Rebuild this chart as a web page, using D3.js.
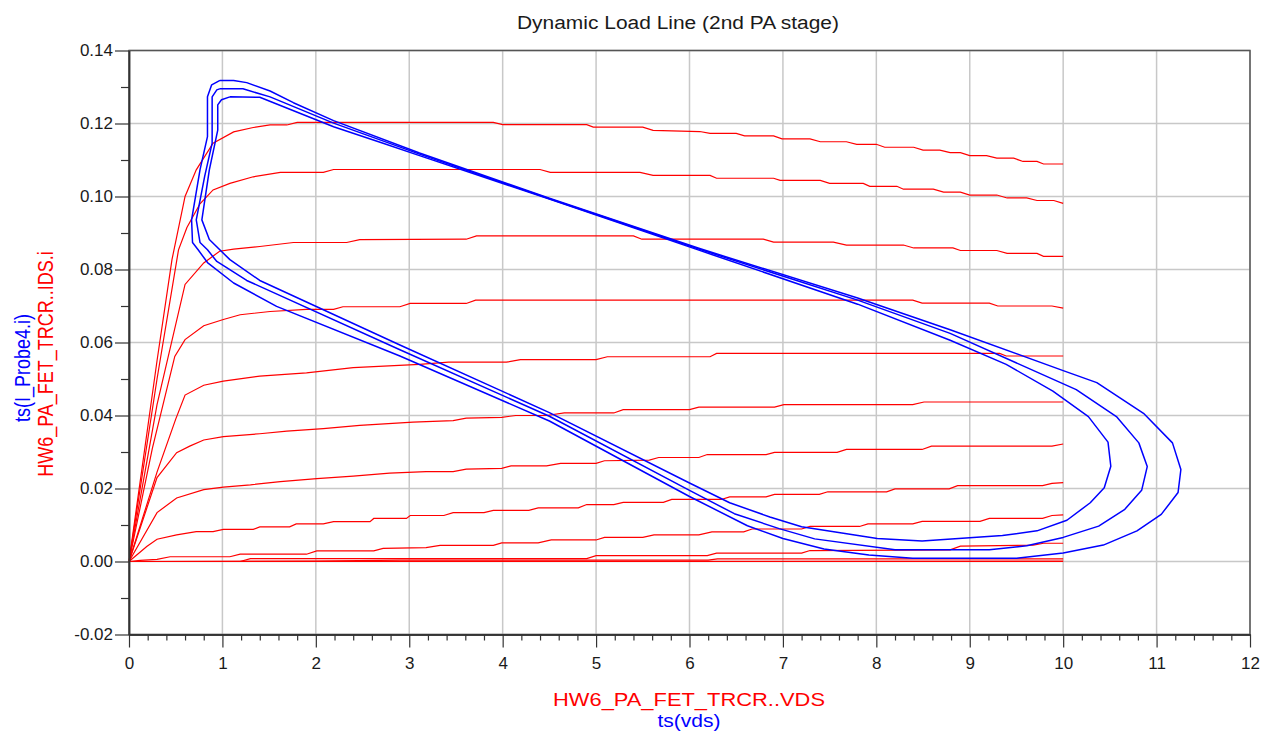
<!DOCTYPE html>
<html>
<head>
<meta charset="utf-8">
<script src="https://cdn.jsdelivr.net/npm/d3@7"></script>
<style>
  body { margin: 0; background: #fff; }
  svg { display: block; font-family: "Liberation Sans", Arial, sans-serif; }
</style>
</head>
<body>
<svg width="1262" height="733"></svg>
<script>
// tick labels
const xTickValues = [0, 1, 2, 3, 4, 5, 6, 7, 8, 9, 10, 11, 12];
const yTickValues = [-0.02, 0.0, 0.02, 0.04, 0.06, 0.08, 0.1, 0.12, 0.14];

// red family: HW6_PA_FET_TRCR..IDS.i vs HW6_PA_FET_TRCR..VDS, one array per gate step
const ids1 = [[0,0],[0.3,0.055],[0.46,0.0827],[0.6,0.1],[0.72,0.1073],[0.9,0.1146],[1.12,0.1177],[1.33,0.1189],[1.51,0.1196],[1.69,0.1196],[1.8,0.1203],[3.9,0.1203],[4.0,0.1197],[4.9,0.1197],[4.97,0.119],[5.5,0.119],[5.61,0.1181],[6.11,0.1178],[6.22,0.1173],[6.5,0.1173],[6.59,0.1166],[6.9,0.1166],[6.99,0.1158],[7.29,0.1158],[7.4,0.115],[7.68,0.115],[7.79,0.1143],[8.0,0.1143],[8.09,0.1135],[8.4,0.1135],[8.5,0.1127],[8.68,0.1127],[8.79,0.112],[8.9,0.112],[9.0,0.1112],[9.18,0.1112],[9.29,0.1105],[9.47,0.1105],[9.57,0.1096],[9.72,0.1096],[9.79,0.1089],[10,0.1089]];
const ids2 = [[0,0],[0.3,0.05],[0.53,0.0854],[0.62,0.0915],[0.76,0.098],[0.9,0.1018],[1.08,0.1036],[1.33,0.1054],[1.62,0.1066],[2.08,0.1066],[2.19,0.1074],[4.4,0.1074],[4.51,0.1066],[5.47,0.1066],[5.61,0.1058],[6.22,0.1058],[6.29,0.105],[6.9,0.105],[6.97,0.1044],[7.4,0.1044],[7.5,0.1036],[7.86,0.1036],[7.93,0.1028],[8.22,0.1028],[8.29,0.102],[8.61,0.102],[8.72,0.1012],[8.9,0.1012],[9.0,0.1004],[9.29,0.1004],[9.4,0.0996],[9.61,0.0996],[9.72,0.0989],[9.9,0.0989],[10,0.0981]];
const ids3 = [[0,0],[0.3,0.043],[0.6,0.0759],[0.8,0.0818],[0.97,0.085],[1.12,0.0856],[1.4,0.0863],[1.76,0.0874],[2.33,0.0874],[2.47,0.0882],[3.61,0.0883],[3.72,0.0892],[5.4,0.0892],[5.49,0.0883],[6.79,0.0883],[6.9,0.0875],[7.54,0.0875],[7.68,0.0867],[8.29,0.0867],[8.4,0.0859],[8.82,0.0859],[8.9,0.0852],[9.29,0.0852],[9.4,0.0844],[9.72,0.0844],[9.79,0.0836],[10,0.0836]];
const ids4 = [[0,0],[0.25,0.031],[0.49,0.0562],[0.6,0.0608],[0.8,0.0646],[1.01,0.0663],[1.19,0.0676],[1.51,0.0685],[1.9,0.0691],[2.19,0.0691],[2.29,0.0698],[2.9,0.0698],[3.01,0.0707],[3.61,0.0707],[3.71,0.0716],[8.39,0.0716],[8.49,0.0708],[9.21,0.0708],[9.3,0.07],[9.88,0.07],[10,0.0694]];
const ids5 = [[0,0],[0.3,0.0245],[0.5,0.039],[0.6,0.0456],[0.8,0.0483],[1.01,0.0494],[1.4,0.0508],[1.9,0.0517],[2.4,0.0531],[3.11,0.054],[3.42,0.0546],[4.04,0.0546],[4.19,0.0553],[5.0,0.0553],[5.12,0.0561],[6.22,0.0561],[6.29,0.057],[9.32,0.057],[9.39,0.0563],[10,0.0563]];
const ids6 = [[0,0],[0.3,0.023],[0.51,0.0298],[0.65,0.0316],[0.8,0.0333],[1.01,0.0342],[1.4,0.035],[1.69,0.0357],[2.08,0.0364],[2.47,0.0373],[3.04,0.0382],[3.47,0.0386],[3.61,0.0393],[3.99,0.0395],[4.14,0.04],[4.47,0.04],[4.66,0.0407],[5.19,0.0407],[5.29,0.0416],[6.0,0.0416],[6.1,0.0423],[6.91,0.0423],[7.01,0.043],[8.39,0.043],[8.51,0.0437],[10,0.0437]];
const ids7 = [[0,0],[0.3,0.0134],[0.51,0.0174],[0.8,0.0197],[1.01,0.0204],[1.3,0.021],[1.62,0.0219],[2.01,0.0227],[2.4,0.0234],[2.79,0.0242],[3.18,0.0246],[3.47,0.0246],[3.61,0.0253],[3.99,0.0255],[4.09,0.0262],[4.47,0.0262],[4.62,0.0269],[5.0,0.0269],[5.09,0.0276],[5.57,0.0278],[5.67,0.0285],[6.1,0.0285],[6.19,0.0293],[6.82,0.0293],[6.91,0.0299],[7.58,0.0299],[7.68,0.0307],[8.49,0.0307],[8.59,0.0316],[9.88,0.0316],[10,0.0322]];
const ids8 = [[0,0],[0.19,0.0041],[0.3,0.0061],[0.51,0.0073],[0.72,0.0082],[0.9,0.0082],[1.01,0.0088],[1.33,0.0088],[1.4,0.0095],[1.72,0.0095],[1.79,0.0103],[2.08,0.0103],[2.19,0.0109],[2.58,0.0109],[2.62,0.0118],[2.97,0.0118],[3.01,0.0126],[3.37,0.0126],[3.47,0.0134],[3.8,0.0134],[3.9,0.014],[4.28,0.014],[4.38,0.0147],[4.81,0.0147],[4.9,0.0156],[5.19,0.0156],[5.29,0.0162],[5.72,0.0162],[5.81,0.017],[6.34,0.017],[6.43,0.0177],[6.82,0.0177],[6.91,0.0184],[7.39,0.0184],[7.48,0.0191],[8.11,0.0191],[8.2,0.0199],[8.78,0.0199],[8.87,0.0208],[9.78,0.0208],[9.88,0.0214],[10,0.0216]];
const ids9 = [[0,0],[0.12,0.0003],[0.3,0.0006],[0.44,0.0013],[1.08,0.0013],[1.19,0.002],[1.9,0.002],[2.01,0.0029],[2.62,0.0029],[2.72,0.0036],[3.18,0.0038],[3.33,0.0044],[3.9,0.0044],[3.99,0.0051],[4.38,0.0051],[4.52,0.0059],[5.0,0.0059],[5.09,0.0066],[5.5,0.0066],[5.62,0.0073],[6.1,0.0073],[6.24,0.0081],[6.58,0.0081],[6.67,0.0089],[7.2,0.0089],[7.29,0.0096],[7.82,0.0096],[7.91,0.0103],[8.39,0.0103],[8.49,0.011],[9.11,0.011],[9.21,0.0118],[9.78,0.0118],[9.88,0.0126],[10,0.0128]];
const ids10 = [[0,0],[1.19,0],[1.3,0.0008],[4.9,0.0008],[5.0,0.0016],[6.19,0.0016],[6.29,0.0023],[7.2,0.0023],[7.29,0.003],[8.79,0.0032],[8.9,0.0042],[9.68,0.0045],[9.79,0.005],[10,0.005]];
const ids11 = [[0,0],[2.0,0.0001],[2.9,0.0004],[6.2,0.0004],[6.3,0.0007],[10,0.0007]];
const ids12 = [[0,0],[10,0.0001]];
const ids13 = [[0,0],[10,0]];

// blue load lines: ts(I_Probe4.i) vs ts(vds), one closed loop per drive level
const loopInner = [[1.08,0.1273],[1.4,0.1272],[2.19,0.1191],[2.72,0.1146],[3.11,0.1112],[4.5,0.0993],[6.1,0.0853],[7.8,0.0705],[8.79,0.0606],[9.39,0.054],[9.89,0.0467],[10.27,0.0397],[10.48,0.0327],[10.51,0.0261],[10.44,0.0202],[10.29,0.0161],[10.04,0.0113],[9.72,0.0084],[9.35,0.0071],[8.49,0.0056],[8.01,0.0063],[7.2,0.0095],[6.86,0.0122],[6.43,0.0161],[6.0,0.0215],[4.5,0.0408],[2.9,0.0593],[1.4,0.077],[1.08,0.0827],[0.86,0.0882],[0.78,0.0936],[0.86,0.1073],[0.95,0.1182],[0.95,0.1251],[0.99,0.1265],[1.08,0.1273]];
const loopMiddle = [[0.97,0.1295],[1.22,0.1295],[1.51,0.1273],[2.19,0.1201],[3.11,0.1116],[4.5,0.0994],[6.1,0.0856],[7.8,0.0716],[8.79,0.0625],[10.14,0.0471],[10.57,0.0397],[10.81,0.0325],[10.9,0.026],[10.84,0.0195],[10.66,0.0143],[10.38,0.0097],[10.0,0.0066],[9.61,0.0043],[9.21,0.0032],[8.2,0.0032],[7.34,0.0062],[6.96,0.009],[6.48,0.0131],[6.0,0.0195],[4.5,0.0398],[2.9,0.058],[1.26,0.077],[0.94,0.0822],[0.84,0.0854],[0.76,0.0874],[0.72,0.0936],[0.81,0.1055],[0.89,0.1146],[0.89,0.1273],[0.94,0.1292],[0.97,0.1295]];
const loopOuter = [[0.974,0.1318],[1.12,0.1318],[1.26,0.1312],[1.51,0.1289],[1.76,0.1257],[2.19,0.1208],[3.11,0.1119],[4.5,0.0995],[6.1,0.0858],[7.8,0.0722],[8.79,0.0635],[10.0,0.0523],[10.36,0.049],[10.86,0.0406],[11.17,0.0325],[11.26,0.0252],[11.23,0.0189],[11.05,0.0129],[10.79,0.0084],[10.43,0.0045],[10.0,0.0023],[9.5,0.0009],[8.39,0.0009],[7.92,0.0018],[7.44,0.0034],[7.0,0.0063],[6.62,0.0098],[6.0,0.0178],[4.5,0.0385],[2.9,0.0563],[1.58,0.0699],[1.12,0.0763],[0.84,0.0819],[0.74,0.0854],[0.68,0.0874],[0.67,0.0936],[0.76,0.1073],[0.84,0.1164],[0.84,0.1273],[0.885,0.1306],[0.974,0.1318]];

const redCurves = [ids1, ids2, ids3, ids4, ids5, ids6, ids7, ids8, ids9, ids10, ids11, ids12, ids13];
const blueLoops = [loopInner, loopMiddle, loopOuter];

const svg = d3.select("svg");
const width = +svg.attr("width");
const height = +svg.attr("height");
const margin = { top: 50.5, right: 12, bottom: 98.5, left: 129 };

const x = d3.scaleLinear().domain([0, 12]).range([margin.left, width - margin.right]);
const y = d3.scaleLinear().domain([-0.02, 0.14]).range([height - margin.bottom, margin.top]);

const xMinor = d3.range(0, 12.01, 0.2).filter((d) => Math.abs(d - Math.round(d)) > 1e-6);
const yMinor = d3.range(-0.01, 0.14, 0.02);

// grid
const grid = svg.append("g").attr("stroke", "#c8c8c8").attr("stroke-width", 1.5);
grid.selectAll("line.gx").data(xTickValues).enter().append("line")
  .attr("x1", (d) => x(d)).attr("x2", (d) => x(d))
  .attr("y1", y(-0.02)).attr("y2", y(0.14));
grid.selectAll("line.gy").data(yTickValues).enter().append("line")
  .attr("x1", x(0)).attr("x2", x(12))
  .attr("y1", (d) => y(d)).attr("y2", (d) => y(d));

const line = d3.line().x((d) => x(d[0])).y((d) => y(d[1]));

svg.append("g").selectAll("path").data(redCurves).enter().append("path")
  .attr("d", line).attr("fill", "none").attr("stroke", "#ff0000").attr("stroke-width", 1.2);

svg.append("g").selectAll("path").data(blueLoops).enter().append("path")
  .attr("d", line).attr("fill", "none").attr("stroke", "#0000ff").attr("stroke-width", 1.5)
  .attr("stroke-linejoin", "round");

// frame
svg.append("rect")
  .attr("x", x(0)).attr("y", y(0.14))
  .attr("width", x(12) - x(0)).attr("height", y(-0.02) - y(0.14))
  .attr("fill", "none").attr("stroke", "#555").attr("stroke-width", 1.5);

// axes
const xAxisG = svg.append("g").attr("transform", `translate(0,${y(-0.02)})`)
  .call(d3.axisBottom(x).tickValues(xTickValues).tickSize(13).tickSizeOuter(0).tickPadding(9).tickFormat(d3.format("d")));
const xMinorG = svg.append("g").attr("transform", `translate(0,${y(-0.02)})`)
  .call(d3.axisBottom(x).tickValues(xMinor).tickSize(6).tickSizeOuter(0).tickFormat(""));
const yAxisG = svg.append("g").attr("transform", `translate(${x(0)},0)`)
  .call(d3.axisLeft(y).tickValues(yTickValues).tickSize(14).tickSizeOuter(0).tickPadding(2).tickFormat((d) => d.toFixed(2)));
const yMinorG = svg.append("g").attr("transform", `translate(${x(0)},0)`)
  .call(d3.axisLeft(y).tickValues(yMinor).tickSize(8).tickSizeOuter(0).tickFormat(""));

[xAxisG, xMinorG, yAxisG, yMinorG].forEach((g) => {
  g.select(".domain").attr("stroke", "#333").attr("stroke-width", 1.5);
  g.selectAll(".tick line").attr("stroke", "#333").attr("stroke-width", 1.2);
  g.selectAll(".tick text").attr("fill", "#1a1a1a").style("font-size", "17px")
    .style("font-family", '"Liberation Sans", Arial, sans-serif');
});

// title and axis labels
svg.append("text")
  .attr("x", 678).attr("y", 29)
  .attr("text-anchor", "middle")
  .attr("textLength", 322).attr("lengthAdjust", "spacingAndGlyphs")
  .style("font-size", "18px").attr("fill", "#1a1a1a")
  .text("Dynamic Load Line (2nd PA stage)");

svg.append("text")
  .attr("x", 689).attr("y", 706)
  .attr("text-anchor", "middle")
  .attr("textLength", 272).attr("lengthAdjust", "spacingAndGlyphs")
  .style("font-size", "18.5px").attr("fill", "#ff0000")
  .text("HW6_PA_FET_TRCR..VDS");

svg.append("text")
  .attr("x", 689).attr("y", 727)
  .attr("text-anchor", "middle")
  .attr("textLength", 63).attr("lengthAdjust", "spacingAndGlyphs")
  .style("font-size", "18.5px").attr("fill", "#0000ff")
  .text("ts(vds)");

svg.append("text")
  .attr("transform", "translate(30,368) scale(1.2,1) rotate(-90)")
  .attr("text-anchor", "middle")
  .style("font-size", "18px").attr("fill", "#0000ff")
  .text("ts(I_Probe4.i)");

svg.append("text")
  .attr("transform", "translate(53,364) scale(1.2,1) rotate(-90)")
  .attr("text-anchor", "middle")
  .style("font-size", "18px").attr("fill", "#ff0000")
  .text("HW6_PA_FET_TRCR..IDS.i");
</script>
</body>
</html>
